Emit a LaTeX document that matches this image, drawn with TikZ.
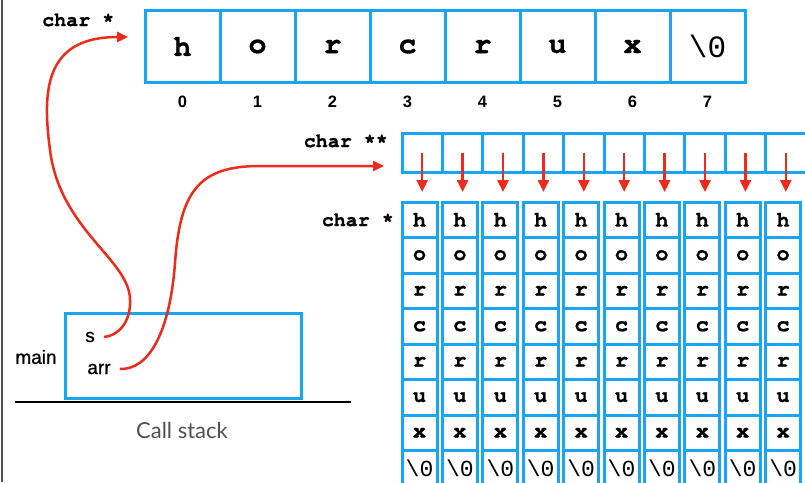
\documentclass[tikz,border=0pt]{standalone}
\usepackage{fontspec}
\setmainfont{Liberation Sans}
\newfontfamily\monofont{Liberation Mono}
\newfontfamily\courfont{texgyrecursor}[Extension=.otf, UprightFont=*-regular, BoldFont=*-bold, BoldFeatures={FakeBold=1}]
\newfontfamily\medfont{Liberation Sans}[FakeBold=1]
\newfontfamily\latofont{Lato}
\usetikzlibrary{arrows.meta,calc}
\definecolor{cellblue}{RGB}{25,165,245}
\definecolor{ptrred}{RGB}{238,42,28}
\definecolor{framegray}{RGB}{80,80,80}
\definecolor{captiongray}{RGB}{80,80,80}
\tikzset{
  topcell/.style={draw=cellblue, line width=3pt, minimum width=75pt, minimum height=72pt,
    inner sep=0pt, font=\courfont\bfseries\fontsize{30}{36}\selectfont},
  topzero/.style={font=\monofont\fontsize{31}{37}\selectfont},
  pcell/.style={draw=cellblue, line width=3pt, minimum width=40.4pt, minimum height=39pt, inner sep=0pt},
  ccell/.style={draw=cellblue, line width=3pt, minimum width=35pt, minimum height=35.5pt,
    inner sep=0pt, font=\courfont\bfseries\fontsize{22}{26}\selectfont},
  czero/.style={font=\monofont\fontsize{23}{27}\selectfont},
  idx/.style={inner sep=0pt, anchor=base, font=\bfseries\fontsize{16.5}{19}\selectfont},
  typelbl/.style={inner sep=0pt, font=\courfont\bfseries\fontsize{20}{24}\selectfont},
  varlbl/.style={inner ysep=0pt, inner xsep=9pt, font=\medfont\fontsize{19}{22}\selectfont},
  ptr/.style={draw=ptrred, line width=2.5pt, -{Triangle[length=12pt,width=11pt]}},
  curveptr/.style={draw=ptrred, line width=2.5pt, -{Triangle[length=11pt,width=10pt]}},
  framebox/.style={draw=cellblue, line width=3pt, inner sep=0pt},
}
\begin{document}
\begin{tikzpicture}[x=1pt,y=-1pt]
\useasboundingbox (0,0) rectangle (805,482);
\clip (0,0) rectangle (805,482);
% left frame line
\draw[line width=1.5pt, framegray] (2,0) -- (2,482);

% top array
\foreach \c [count=\i from 0] in {h,o,r,c,r,u,x}
  \node[topcell] (t\i) at (182.5+75*\i,46.5) {\c};
\node[topcell,topzero] (t7) at (707.5,46.5) {\textbackslash 0};
\foreach \i in {0,...,7}
  \node[idx] (n\i) at ($(t\i.center)+(0,60.5)$) {\i};
\node[typelbl, anchor=base west] (ltop) at (42,26) {char *};

% char ** array
\foreach \i in {0,...,9}
  \node[pcell] (p\i) at (422.2+40.4*\i,152.5) {};
\node[typelbl, anchor=base east] (lpp) at (388,147) {char **};
\node[typelbl, anchor=base east] (lp) at (394,226) {char *};

% columns of strings
\foreach \i in {0,...,9} {
  \foreach \c [count=\j from 0] in {h,o,r,c,r,u,x}
    \node[ccell] (c\i-\j) at (419.5+40.4*\i,219.75+35.5*\j) {\c};
  \node[ccell,czero] (c\i-7) at (419.5+40.4*\i,468.25) {\textbackslash 0};
}
\foreach \i in {0,...,9}
  \draw[ptr, shorten >=8.5pt] (p\i.center) -- (p\i.center |- c\i-0.north);

% call stack
\node[framebox, minimum width=236pt, minimum height=85pt] (mainbox) at (183,355.5) {};
\node[inner sep=0pt, font=\medfont\fontsize{19}{22}\selectfont] (mainlbl) at (36,357) {main};
\node[varlbl] (s) at (90,337) {s};
\node[varlbl] (arr) at (99,369) {arr};
\coordinate (la) at (15,402);
\coordinate (lb) at (351,402);
\draw[line width=2.5pt] (la) -- (lb);
\node[inner sep=0pt, text=captiongray, font=\latofont\fontsize{22}{26}\selectfont] (cap) at (182,430) {Call stack};

% pointers
\coordinate (sTip) at (128,37);
\coordinate (arrTip) at (384,166);
\draw[curveptr] (s.east) .. controls (118,336) and (131,322) .. (130,300)
  .. controls (130,260) and (60,230) .. (50,150)
  .. controls (42,90) and (45,37) .. (sTip);
\draw[curveptr] (arr.east) .. controls (150,370) and (170,330) .. (175,263)
  .. controls (180,190) and (200,166) .. (260,166) -- (arrTip);
\end{tikzpicture}
\end{document}
